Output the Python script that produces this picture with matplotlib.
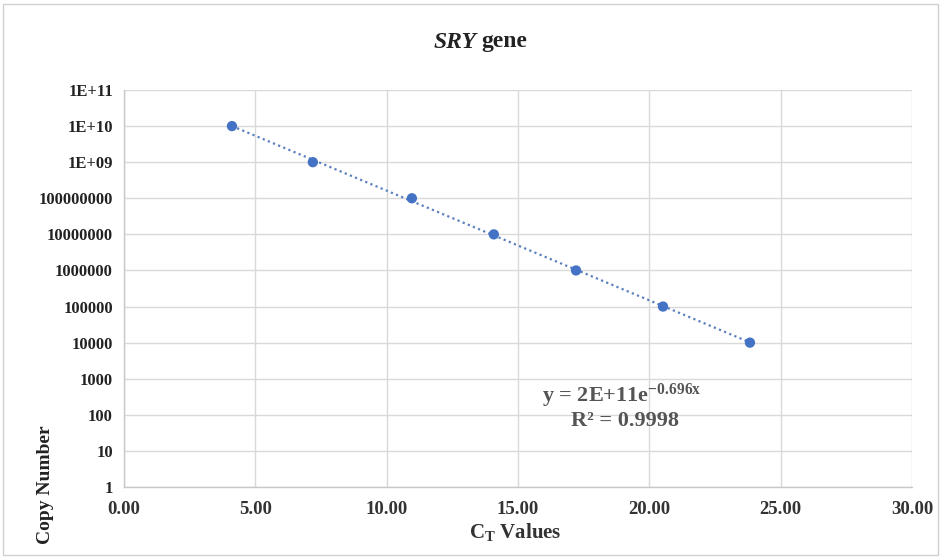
import numpy as np
import matplotlib
matplotlib.use("Agg")
import matplotlib.pyplot as plt
from matplotlib.patches import Rectangle

# Data
ct_values = [4.11, 7.19, 10.96, 14.08, 17.21, 20.52, 23.83]
copy_numbers = [1e10, 1e9, 1e8, 1e7, 1e6, 1e5, 1e4]
x_ticks = [0, 5, 10, 15, 20, 25, 30]
x_tick_labels = ["0.00", "5.00", "10.00", "15.00", "20.00", "25.00", "30.00"]
y_ticks = [1e0, 1e1, 1e2, 1e3, 1e4, 1e5, 1e6, 1e7, 1e8, 1e9, 1e10, 1e11]
y_tick_labels = ["1", "10", "100", "1000", "10000", "100000", "1000000",
                 "10000000", "100000000", "1E+09", "1E+10", "1E+11"]
equation_text = "y = 2E+11e$^{\\mathregular{-0.696x}}$"
r2_text = "R² = 0.9998"

plt.rcParams['font.family'] = ['Liberation Serif', 'DejaVu Serif']
plt.rcParams['mathtext.fontset'] = 'custom'
plt.rcParams['mathtext.rm'] = 'Liberation Serif:bold'
plt.rcParams['mathtext.it'] = 'Liberation Serif:italic:bold'
plt.rcParams['mathtext.bf'] = 'Liberation Serif:bold'

fig = plt.figure(figsize=(9.42, 5.59), dpi=100)
fig.patches.append(Rectangle((3/942, 4/559), 935/942, 551/559, transform=fig.transFigure,
                             fill=False, edgecolor='#d0d0d0', linewidth=1.0))
ax = fig.add_axes([124/942, 1-487/559, (912-124)/942, (487-90)/559])

ax.set_yscale('log')
ax.set_xlim(0, 30)
ax.set_ylim(1, 1e11)

# Trendline (exponential fit through the data)
xs = np.array(ct_values)
ys = np.array(copy_numbers)
b, a = np.polyfit(xs, np.log(ys), 1)
xl = np.linspace(xs.min(), xs.max(), 100)
ax.plot(xl, np.exp(a + b * xl), linestyle=(0, (1, 1.5)), color='#5b7fbf', linewidth=1.6, zorder=2)

ax.scatter(ct_values, copy_numbers, s=55, color='#4472C4', zorder=3, edgecolors='none')

ax.set_xticks(x_ticks)
ax.set_xticklabels(x_tick_labels, fontsize=13.5, fontweight='bold', color='#333333')
ax.set_yticks(y_ticks)
ax.set_yticklabels(y_tick_labels, fontsize=12, fontweight='bold', color='#222222')
ax.yaxis.set_minor_locator(matplotlib.ticker.NullLocator())
ax.tick_params(axis='y', length=0, pad=8)
ax.tick_params(axis='x', length=0, pad=10)

ax.grid(True, color='#d9d9d9', linewidth=1.0)
ax.set_axisbelow(True)
for s in ['top', 'right']:
    ax.spines[s].set_visible(False)
for s in ['left', 'bottom']:
    ax.spines[s].set_color('#c8c8c8')
    ax.spines[s].set_linewidth(1.0)

fig.text(476/942, 1-42/559, "SRY", fontsize=17, fontweight='bold', style='italic',
         ha='right', va='center', color='#222222')
fig.text(481/942, 1-42/559, "gene", fontsize=17, fontweight='bold',
         ha='left', va='center', color='#222222')

fig.text(515/942, 1-532/559, "C$_\\mathregular{T}$ Values", fontsize=15, fontweight='bold',
         ha='center', va='center', color='#333333')
fig.text(45/942, 1-485/559, "Copy Number", fontsize=14, fontweight='bold', rotation=90,
         ha='center', va='center', color='#222222')

fig.text(622/942, 1-396/559, equation_text, fontsize=16, fontweight='bold',
         ha='center', va='center', color='#555555')
fig.text(625/942, 1-421/559, r2_text, fontsize=16, fontweight='bold',
         ha='center', va='center', color='#555555')

fig.savefig("out.png", dpi=100)
